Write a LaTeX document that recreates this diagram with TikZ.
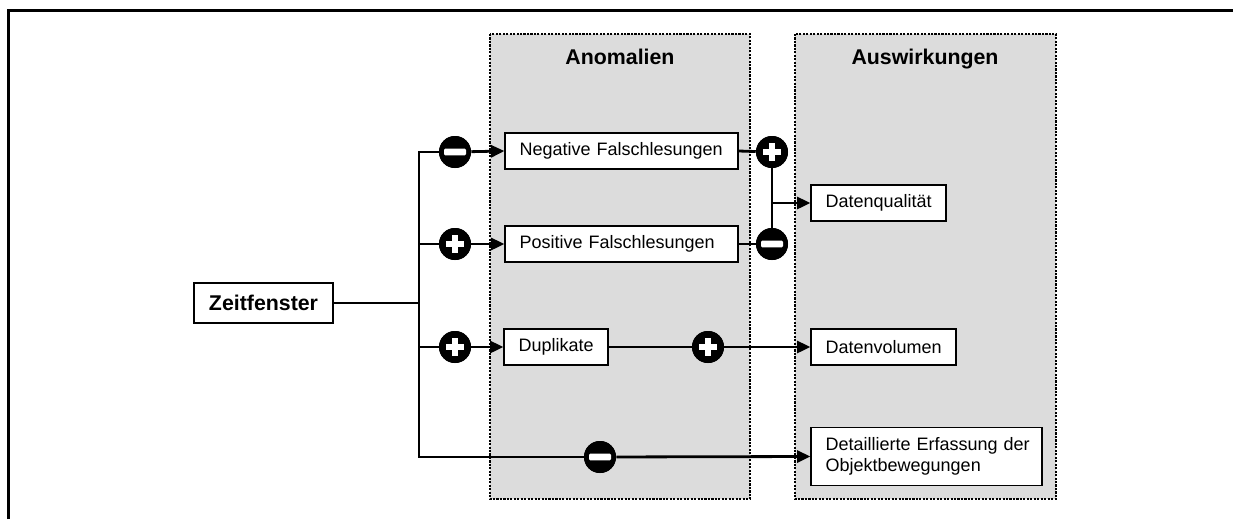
\documentclass[tikz,border=0pt]{standalone}
\usepackage{fontspec}
\setmainfont{Liberation Sans}
\usetikzlibrary{arrows.meta}

\definecolor{panelgray}{HTML}{DCDCDC}
\tikzset{
  panel/.style={fill=panelgray, draw=black, densely dotted, line width=1.6pt},
  title/.style={font=\fontsize{16}{18}\selectfont\bfseries, anchor=base},
  box/.style={draw=black, fill=white, line width=0.9pt, inner xsep=11pt,
    inner ysep=0pt, align=left, font=\fontsize{13.5}{15.5}\selectfont},
  link/.style={line width=2.1pt},
  arr/.style={link, -{Triangle[length=10pt,width=9pt]}},
  plussign/.style={circle, fill=black, minimum size=24pt, inner sep=0pt,
    path picture={
      \fill[white] ([xshift=-6.75pt,yshift=-1.9pt]path picture bounding box.center)
        rectangle ([xshift=6.75pt,yshift=1.9pt]path picture bounding box.center);
      \fill[white] ([xshift=-1.9pt,yshift=-6.75pt]path picture bounding box.center)
        rectangle ([xshift=1.9pt,yshift=6.75pt]path picture bounding box.center);}},
  minussign/.style={circle, fill=black, minimum size=24pt, inner sep=0pt,
    path picture={
      \fill[white, rounded corners=1pt] ([xshift=-8.25pt,yshift=-2.6pt]path picture bounding box.center)
        rectangle ([xshift=8.25pt,yshift=2.6pt]path picture bounding box.center);}}
}

\begin{document}
\begin{tikzpicture}[x=0.75pt, y=-0.75pt]
  \useasboundingbox (0,0) rectangle (1233,519);

  % outer frame (open to the right and bottom)
  \draw[line width=2.25pt] (8,519) -- (8,10) -- (1233,10);

  % the two column panels
  \draw[panel] (490,34) rectangle (750,499);
  \draw[panel] (795,34) rectangle (1056,499);
  \node[title] (tanom) at (620,64) {Anomalien};
  \node[title] (tausw) at (925,64) {Auswirkungen};

  % boxes
  \node[box, font=\fontsize{16}{18}\selectfont\bfseries, minimum width=104.25pt,
        minimum height=30pt, align=center, inner xsep=0pt] (zeit) at (263.5,303) {Zeitfenster};
  \node[box, text width=152.75pt, minimum height=27pt] (neg) at (621.5,151) {Negative Falschlesungen};
  \node[box, text width=152.75pt, minimum height=27pt] (pos) at (621.5,244) {Positive Falschlesungen};
  \node[box, text width=56pt, minimum height=27pt] (dup) at (556,347) {Duplikate};
  \node[box, text width=79.25pt, minimum height=27pt] (dq) at (878.5,203) {Datenqualität};
  \node[box, text width=86.75pt, minimum height=27pt] (dv) at (883.5,347) {Datenvolumen};
  \node[box, text width=151.25pt, minimum height=44pt] (det) at (926.5,456.5)
    {\hbox{Detaillierte Erfassung der}\\Objektbewegungen};

  % sign markers
  \node[minussign] (c1) at (455,152) {};
  \node[plussign]  (c2) at (455,244) {};
  \node[plussign]  (c3) at (455,347) {};
  \node[minussign] (c4) at (600,457) {};
  \node[plussign]  (c5) at (772,152) {};
  \node[minussign] (c6) at (772,244) {};
  \node[plussign]  (c7) at (708,347) {};

  % trunk from Zeitfenster
  \coordinate (ttop) at (419,152);
  \coordinate (tmid) at (419,303);
  \coordinate (tdup) at (419,347);
  \coordinate (tpos) at (419,244);
  \coordinate (tbot) at (419,457);
  \coordinate (jq) at (772,203);

  \draw[link] (zeit.east) -- (tmid);
  \draw[link] (c1) -- (ttop) -- (tbot) -- (c4);
  \draw[link] (tpos) -- (c2);
  \draw[link] (tdup) -- (c3);
  \draw[arr] (c1) -- (neg.west);
  \draw[arr] (c2) -- (pos.west);
  \draw[arr] (c3) -- (dup.west);
  \draw[arr] (c4) -- (det.west);

  % anomalies to effects
  \draw[link] (neg.east) -- (c5);
  \draw[link] (pos.east) -- (c6);
  \draw[link] (c5) -- (c6);
  \draw[arr] (jq) -- (dq.west);
  \draw[link] (dup.east) -- (c7);
  \draw[arr] (c7) -- (dv.west);

  % markers drawn again above the connectors
  \node[minussign] at (c1) {};
  \node[plussign]  at (c2) {};
  \node[plussign]  at (c3) {};
  \node[minussign] at (c4) {};
  \node[plussign]  at (c5) {};
  \node[minussign] at (c6) {};
  \node[plussign]  at (c7) {};
\end{tikzpicture}
\end{document}
